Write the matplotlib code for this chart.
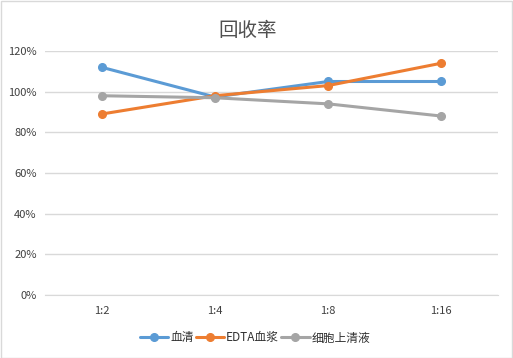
import matplotlib
matplotlib.use("Agg")
import matplotlib.pyplot as plt
from matplotlib.ticker import PercentFormatter
from matplotlib.patches import Rectangle

plt.rcParams['font.family'] = ['Noto Sans CJK SC', 'DejaVu Sans']

categories = ["1:2", "1:4", "1:8", "1:16"]
serum = [1.12, 0.974, 1.05, 1.05]
edta = [0.89, 0.98, 1.03, 1.14]
supernatant = [0.98, 0.97, 0.94, 0.88]
series_names = ["血清", "EDTA血浆", "细胞上清液"]
yticks = [0, 0.2, 0.4, 0.6, 0.8, 1.0, 1.2]

colors = ["#5B9BD5", "#ED7D31", "#A5A5A5"]

fig = plt.figure(figsize=(5.13, 3.58), dpi=100)
fig.patches.append(Rectangle((0.001, 0.001), 0.997, 0.996, transform=fig.transFigure,
                             fill=False, edgecolor="#D9D9D9", linewidth=1))
ax = fig.add_axes([45/513, (358-295)/358, (498-45)/513, (295-51)/358])

x = list(range(len(categories)))
for vals, name, c in zip([serum, edta, supernatant], series_names, colors):
    ax.plot(x, vals, color=c, linewidth=2.2, marker='o', markersize=5.5, label=name,
            solid_capstyle='round')

ax.set_xlim(-0.5, len(categories) - 0.5)
ax.set_ylim(0, 1.2)
ax.set_yticks(yticks)
ax.yaxis.set_major_formatter(PercentFormatter(1.0, decimals=0))
ax.set_xticks(x)
ax.set_xticklabels(categories)
ax.grid(axis='y', color='#D9D9D9', linewidth=1)
ax.set_axisbelow(True)
for s in ax.spines.values():
    s.set_visible(False)
ax.spines['bottom'].set_visible(True)
ax.spines['bottom'].set_color('#D9D9D9')
ax.tick_params(axis='both', length=0, labelsize=8, labelcolor='#404040')
ax.tick_params(axis='x', pad=8)
ax.tick_params(axis='y', pad=6)

fig.text(248/513, 1 - 31/358, "回收率", ha='center', va='center', fontsize=14, color='#505050')

leg = fig.legend(loc='center', bbox_to_anchor=(255/513, 1 - 338/358), ncol=3, frameon=False,
                 fontsize=8.5, handlelength=2.4, columnspacing=0.2, handletextpad=0.15,
                 labelcolor='#303030')

fig.savefig("out.png", dpi=100)
